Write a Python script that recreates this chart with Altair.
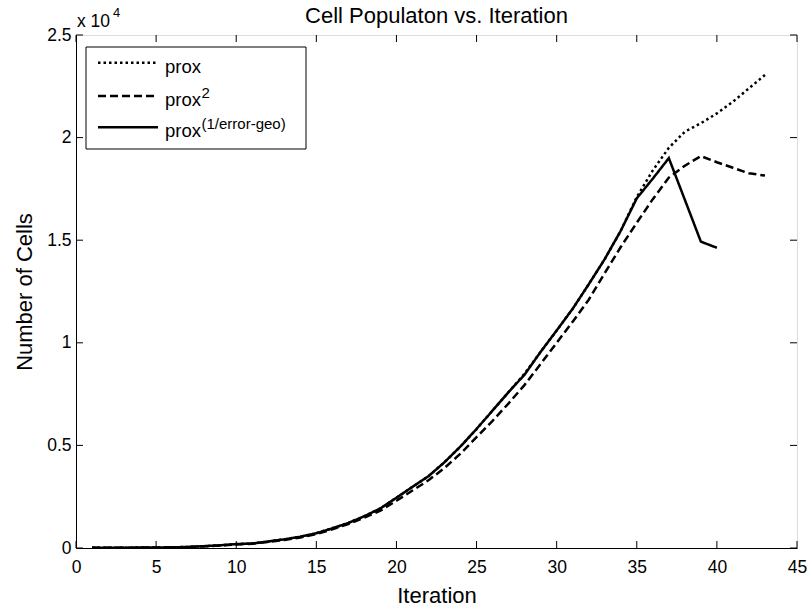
import altair as alt
import pandas as pd

FONT = "Liberation Sans"

# ---------------- data ----------------
iterations = list(range(1, 44))
prox = [10, 12, 15, 20, 25, 35, 50, 90, 130, 190,
        220, 320, 420, 550, 720, 960, 1220, 1550, 1930, 2450,
        2980, 3500, 4180, 4950, 5800, 6700, 7600, 8500, 9560, 10600,
        11660, 12850, 14080, 15460, 17100, 18400, 19500, 20290, 20700, 21180,
        21750, 22400, 23050]
prox_sq = [10, 12, 15, 18, 22, 30, 45, 80, 120, 175,
           210, 300, 390, 510, 680, 910, 1170, 1480, 1820, 2300,
           2800, 3300, 3900, 4600, 5400, 6200, 7050, 7950, 8970, 10000,
           11030, 12100, 13400, 14670, 15850, 17000, 18050, 18630, 19100, 18800,
           18530, 18260, 18150]
prox_err = [10, 12, 15, 20, 25, 35, 50, 90, 130, 190,
            220, 320, 420, 550, 720, 960, 1220, 1550, 1930, 2450,
            2980, 3500, 4180, 4950, 5800, 6700, 7600, 8450, 9560, 10600,
            11660, 12850, 14080, 15460, 17040, 18000, 19000, 16970, 14930, 14630]

series_names = ["prox", "prox^2", "prox^(1/error-geo)"]
legend_base = ["prox", "prox", "prox"]
legend_sup = ["", "2", "(1/error-geo)"]

x_ticks = [0, 5, 10, 15, 20, 25, 30, 35, 40, 45]
y_ticks = [0, 5000, 10000, 15000, 20000, 25000]

title_text = "Cell Populaton vs. Iteration"
x_title = "Iteration"
y_title = "Number of Cells"
exp_base = "x 10"
exp_sup = "4"

rows = []
for name, vals in zip(series_names, [prox, prox_sq, prox_err]):
    for it, v in zip(iterations, vals):
        rows.append({"series": name, "iteration": it, "cells": v})
df = pd.DataFrame(rows)

W, H = 721, 513

x_scale = alt.Scale(domain=[0, 45], nice=False, zero=False)
y_scale = alt.Scale(domain=[0, 25000], nice=False)

x_axis = alt.Axis(values=x_ticks, ticks=False, grid=False, labelFontSize=17.5,
                  labelFont=FONT, labelColor="black", labelPadding=10,
                  labelFlush=False, labelOverlap=False,
                  domainColor="black", domainWidth=1,
                  title=x_title, titleFontSize=22, titleFont=FONT,
                  titleFontWeight="normal", titleColor="black",
                  titleY=54, titleBaseline="alphabetic")
y_axis = alt.Axis(values=y_ticks, ticks=False, grid=False, labelFontSize=17.5,
                  labelFont=FONT, labelColor="black", labelPadding=5,
                  labelFlush=False, labelOverlap=False,
                  labelExpr="format(datum.value/10000, '~g')",
                  domainColor="black", domainWidth=1,
                  title=y_title, titleFontSize=22, titleFont=FONT,
                  titleFontWeight="normal", titleColor="black",
                  titleX=-45, titleY=H / 2, titleAngle=270,
                  titleBaseline="alphabetic", titleAlign="center")

X = lambda f: alt.X(f, scale=x_scale, axis=x_axis)
Y = lambda f: alt.Y(f, scale=y_scale, axis=y_axis)


def line_layer(name, dash):
    return alt.Chart(df).transform_filter(alt.datum.series == name).mark_line(
        color="black", strokeWidth=2.5, strokeDash=dash, strokeCap="butt"
    ).encode(x=X("iteration:Q"), y=Y("cells:Q"), order="iteration:Q")


dashes = [[2.5, 3], [8, 4], [1, 0]]
lines = [line_layer(n, d) for n, d in zip(series_names, dashes)]

# inward ticks on all four sides
tx = pd.DataFrame({"t": x_ticks})
ty = pd.DataFrame({"t": y_ticks})
tick_bottom = alt.Chart(tx).mark_rule(color="black", strokeWidth=1).encode(
    x=X("t:Q"), y=alt.value(H), y2=alt.value(H - 7))
tick_top = alt.Chart(tx).mark_rule(color="black", strokeWidth=1).encode(
    x=X("t:Q"), y=alt.value(0), y2=alt.value(7))
tick_left = alt.Chart(ty).mark_rule(color="black", strokeWidth=1).encode(
    y=Y("t:Q"), x=alt.value(0), x2=alt.value(7))
tick_right = alt.Chart(ty).mark_rule(color="black", strokeWidth=1).encode(
    y=Y("t:Q"), x=alt.value(W), x2=alt.value(W - 7))

one = pd.DataFrame({"a": [0]})

# title
title_mark = alt.Chart(one).mark_text(align="center", baseline="alphabetic", font=FONT,
                                      fontSize=22, color="black").encode(
    x=alt.value(W / 2), y=alt.value(-12), text=alt.value(title_text))

# exponent label
exp_main = alt.Chart(one).mark_text(align="left", baseline="alphabetic", font=FONT,
                                    fontSize=17.5, color="black").encode(
    x=alt.value(1), y=alt.value(-8), text=alt.value(exp_base))
exp_s = alt.Chart(one).mark_text(align="left", baseline="alphabetic", font=FONT,
                                 fontSize=13, color="black").encode(
    x=alt.value(37), y=alt.value(-18), text=alt.value(exp_sup))

# legend
leg_box = alt.Chart(one).mark_rect(fill="white", stroke="black", strokeWidth=1).encode(
    x=alt.value(10), x2=alt.value(230), y=alt.value(12), y2=alt.value(114))
row_y = [27.7, 61, 92.3]
leg_layers = [leg_box]
for i in range(3):
    leg_layers.append(alt.Chart(one).mark_rule(color="black", strokeWidth=2.5,
                                               strokeDash=dashes[i], strokeCap="butt").encode(
        x=alt.value(22), x2=alt.value(82), y=alt.value(row_y[i])))
    leg_layers.append(alt.Chart(one).mark_text(align="left", baseline="alphabetic",
                                               font=FONT, fontSize=18.5, color="black").encode(
        x=alt.value(89), y=alt.value(row_y[i] + 10), text=alt.value(legend_base[i])))
    if legend_sup[i]:
        leg_layers.append(alt.Chart(one).mark_text(align="left", baseline="alphabetic",
                                                   font=FONT, fontSize=15, color="black").encode(
            x=alt.value(89 + 36.5), y=alt.value(row_y[i] + 2), text=alt.value(legend_sup[i])))

chart = alt.layer(
    *lines, tick_bottom, tick_top, tick_left, tick_right, title_mark, exp_main, exp_s,
    *leg_layers
).properties(
    width=W, height=H,
    autosize=alt.AutoSizeParams(type="none"),
    padding={"left": 76, "top": 35, "right": 13, "bottom": 65},
).configure_view(stroke="black", strokeWidth=1).configure(background="white")

chart.save("out.html", embed_options={"renderer": "svg", "actions": False})
